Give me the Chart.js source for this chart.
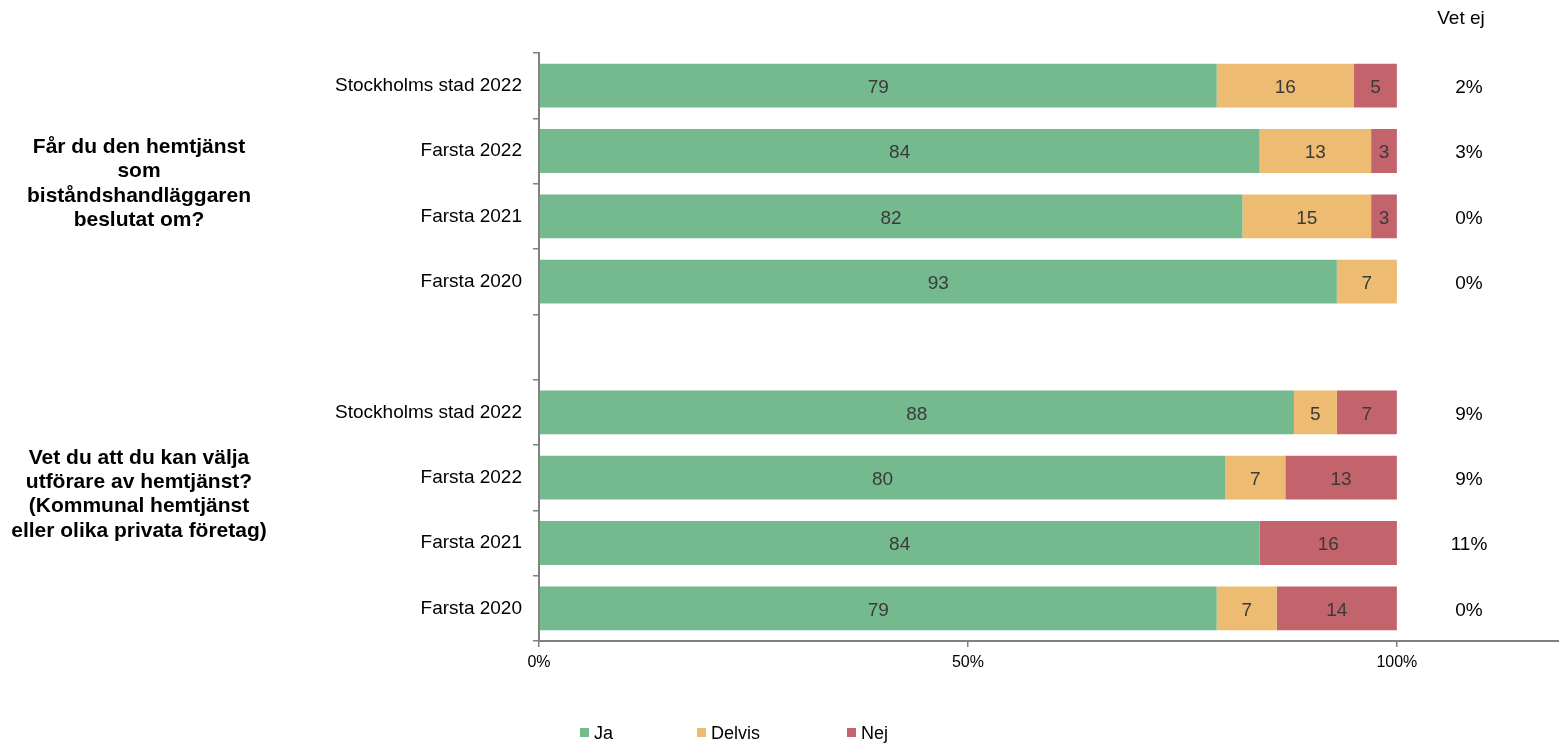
<!DOCTYPE html>
<html>
<head>
<meta charset="utf-8">
<script src="https://cdn.jsdelivr.net/npm/chart.js@4.4.0/dist/chart.umd.min.js"></script>
<style>
  html, body { margin: 0; padding: 0; background: #ffffff; }
  #wrap { width: 1559px; height: 744px; }
</style>
</head>
<body>
<div id="wrap"><canvas id="c" width="1559" height="744"></canvas></div>
<script>
// ---- Data ----
const categories = ['Stockholms stad 2022', 'Farsta 2022', 'Farsta 2021', 'Farsta 2020', '',
                    'Stockholms stad 2022', 'Farsta 2022', 'Farsta 2021', 'Farsta 2020'];
const jaValues     = [79, 84, 82, 93, null, 88, 80, 84, 79];
const delvisValues = [16, 13, 15, 7,  null, 5,  7,  0,  7];
const nejValues    = [5,  3,  3,  0,  null, 7,  13, 16, 14];
const vetEjValues  = [2,  3,  0,  0,  null, 9,  9,  11, 0];
const xTickValues  = [0, 50, 100];
const seriesNames  = ['Ja', 'Delvis', 'Nej'];
const vetEjTitle   = 'Vet ej';
const questions = [
  ['Får du den hemtjänst', 'som', 'biståndshandläggaren', 'beslutat om?'],
  ['Vet du att du kan välja', 'utförare av hemtjänst?', '(Kommunal hemtjänst', 'eller olika privata företag)']
];
const questionRows = [[0, 3], [5, 8]];

// ---- Styles ----
const FONT = "'Liberation Sans', Arial, Helvetica, sans-serif";
const colors = ['#75b98f', '#edbb71', '#c3636c'];
const axisColor = '#808080';

const barLabels = {
  id: 'barLabels',
  afterDatasetsDraw(chart) {
    const ctx = chart.ctx;
    ctx.save();
    ctx.font = '19px ' + FONT;
    ctx.fillStyle = '#3a3a3a';
    ctx.textAlign = 'center';
    ctx.textBaseline = 'middle';
    chart.data.datasets.forEach((ds, i) => {
      const meta = chart.getDatasetMeta(i);
      meta.data.forEach((el, j) => {
        const v = ds.data[j];
        if (v === null || v === undefined || v === 0) return;
        const p = el.getProps(['x', 'base', 'y'], true);
        ctx.fillText(String(v), (p.x + p.base) / 2, p.y + 2);
      });
    });
    ctx.restore();
  }
};

const extras = {
  id: 'extras',
  afterDraw(chart) {
    const ctx = chart.ctx;
    const ys = chart.scales.y;
    ctx.save();
    // Vet ej column
    ctx.fillStyle = '#000';
    ctx.textAlign = 'center';
    ctx.textBaseline = 'middle';
    ctx.font = '19px ' + FONT;
    ctx.fillText(vetEjTitle, 1461, 19);
    vetEjValues.forEach((v, i) => {
      if (v === null) return;
      ctx.fillText(v + '%', 1469, ys.getPixelForValue(i) + 2);
    });
    // Question labels
    ctx.font = 'bold 21px ' + FONT;
    const shifts = [0, -16];
    questions.forEach((lines, q) => {
      const [a, b] = questionRows[q];
      const cy = (ys.getPixelForValue(a) + ys.getPixelForValue(b)) / 2 + shifts[q];
      const lh = 24.4;
      lines.forEach((t, k) => {
        ctx.fillText(t, 139, cy + (k - (lines.length - 1) / 2) * lh);
      });
    });
    // Legend
    const lx = [580, 697, 847];
    ctx.font = '18px ' + FONT;
    ctx.textAlign = 'left';
    chart.data.datasets.forEach((ds, i) => {
      ctx.fillStyle = ds.backgroundColor;
      ctx.fillRect(lx[i], 728, 9, 9);
      ctx.fillStyle = '#000';
      ctx.fillText(ds.label, lx[i] + 14, 734);
    });
    ctx.restore();
  }
};

new Chart(document.getElementById('c'), {
  type: 'bar',
  data: {
    labels: categories,
    datasets: [
      { label: seriesNames[0], data: jaValues, backgroundColor: colors[0] },
      { label: seriesNames[1], data: delvisValues, backgroundColor: colors[1] },
      { label: seriesNames[2], data: nejValues, backgroundColor: colors[2] }
    ]
  },
  options: {
    indexAxis: 'y',
    responsive: false,
    animation: false,
    devicePixelRatio: 1,
    layout: { padding: { top: 53, left: 0, right: 0, bottom: 0 } },
    datasets: { bar: { barPercentage: 0.67, categoryPercentage: 1.0, borderWidth: 0 } },
    plugins: { legend: { display: false }, tooltip: { enabled: false } },
    scales: {
      x: {
        type: 'linear',
        stacked: true,
        min: 0,
        max: 118.9,
        afterBuildTicks: s => { s.ticks = xTickValues.map(v => ({ value: v })); },
        afterFit: s => { s.height = 103; },
        ticks: {
          callback: v => v + '%',
          font: { family: FONT, size: 16 },
          color: '#000',
          padding: 6,
          autoSkip: false,
          maxRotation: 0
        },
        grid: { drawOnChartArea: false, drawTicks: true, tickLength: 6, color: axisColor, lineWidth: 1.5 },
        border: { display: true, color: axisColor, width: 2 }
      },
      y: {
        type: 'category',
        stacked: true,
        afterFit: s => { s.width = 539; },
        ticks: {
          font: { family: FONT, size: 19 },
          color: '#000',
          padding: 11,
          autoSkip: false
        },
        grid: { drawOnChartArea: false, drawTicks: true, tickLength: 6, color: axisColor, lineWidth: 1.5 },
        border: { display: true, color: axisColor, width: 2 }
      }
    }
  },
  plugins: [barLabels, extras]
});
</script>
</body>
</html>
